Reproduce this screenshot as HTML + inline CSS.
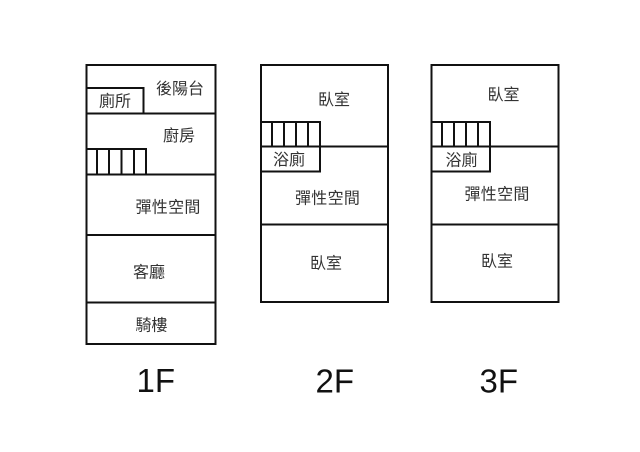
<!DOCTYPE html>
<html>
<head>
<meta charset="utf-8">
<style>
html,body{margin:0;padding:0;background:#fff;width:640px;height:452px;overflow:hidden}
svg{display:block}
.c{font-family:"Liberation Sans","Noto Sans CJK TC",sans-serif;font-size:16px;fill:#333}
.f{font-family:"Liberation Sans",sans-serif;font-size:33px;fill:#111}
line,rect{stroke:#111;stroke-width:2;fill:none}
</style>
</head>
<body>
<svg width="640" height="452" viewBox="0 0 640 452" xmlns="http://www.w3.org/2000/svg">
<!-- 1F -->
<rect x="86.5" y="65" width="129" height="279"/>
<line x1="86" y1="113.5" x2="216" y2="113.5"/>
<line x1="86" y1="174.5" x2="216" y2="174.5"/>
<line x1="86" y1="235" x2="216" y2="235"/>
<line x1="86" y1="302.5" x2="216" y2="302.5"/>
<rect x="86.5" y="88" width="57" height="25.5"/>
<line x1="86" y1="149" x2="147" y2="149"/>
<line x1="97" y1="149" x2="97" y2="174"/>
<line x1="109" y1="149" x2="109" y2="174"/>
<line x1="121.500" y1="149" x2="121.500" y2="174"/>
<line x1="134" y1="149" x2="134" y2="174"/>
<line x1="146" y1="148" x2="146" y2="174"/>
<!-- 2F -->
<rect x="261" y="65" width="127" height="237"/>
<line x1="261" y1="146.500" x2="388" y2="146.500"/>
<line x1="261" y1="224.500" x2="388" y2="224.500"/>
<line x1="261" y1="171.500" x2="320" y2="171.500"/>
<line x1="261" y1="122" x2="320" y2="122"/>
<line x1="272" y1="122" x2="272" y2="146"/>
<line x1="284" y1="122" x2="284" y2="146"/>
<line x1="296" y1="122" x2="296" y2="146"/>
<line x1="308" y1="122" x2="308" y2="146"/>
<line x1="320" y1="121" x2="320" y2="172.500"/>
<!-- 3F -->
<rect x="431.500" y="65" width="127" height="237"/>
<line x1="431" y1="146.500" x2="559" y2="146.500"/>
<line x1="431" y1="224.500" x2="559" y2="224.500"/>
<line x1="431" y1="171.500" x2="490" y2="171.500"/>
<line x1="431" y1="122" x2="490" y2="122"/>
<line x1="442" y1="122" x2="442" y2="146"/>
<line x1="454" y1="122" x2="454" y2="146"/>
<line x1="466" y1="122" x2="466" y2="146"/>
<line x1="478" y1="122" x2="478" y2="146"/>
<line x1="490" y1="121" x2="490" y2="172.500"/>
<!-- Labels -->
<text class="c" x="156" y="94">後陽台</text>
<text class="c" x="99" y="106.500">廁所</text>
<text class="c" x="163" y="141">廚房</text>
<text class="c" x="135.500" y="212.500" letter-spacing="0.300">彈性空間</text>
<text class="c" x="133" y="277.500">客廳</text>
<text class="c" x="135.500" y="330.500">騎樓</text>
<text class="c" x="318" y="105">臥室</text>
<text class="c" x="273" y="165">浴廁</text>
<text class="c" x="295" y="203.500" letter-spacing="0.300">彈性空間</text>
<text class="c" x="310" y="268.500">臥室</text>
<text class="c" x="487.500" y="100">臥室</text>
<text class="c" x="445.500" y="165.500">浴廁</text>
<text class="c" x="464.500" y="199.500" letter-spacing="0.300">彈性空間</text>
<text class="c" x="481" y="266.500">臥室</text>
<text class="f" x="136.500" y="392">1F</text>
<text class="f" x="315.500" y="392.500">2F</text>
<text class="f" x="479.500" y="392.500">3F</text>
</svg>
</body>
</html>
